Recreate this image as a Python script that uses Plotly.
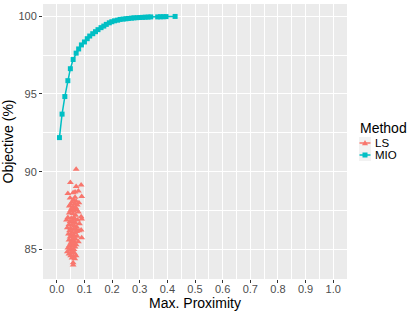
import plotly.graph_objects as go

mio_x = [0.0095, 0.019, 0.029, 0.040, 0.049, 0.059, 0.070, 0.079, 0.089, 0.100,
         0.110, 0.119, 0.130, 0.140, 0.149, 0.160, 0.170, 0.179, 0.190, 0.199,
         0.209, 0.220, 0.229, 0.240, 0.250, 0.259, 0.270, 0.279, 0.290, 0.300,
         0.310, 0.320, 0.330, 0.340, 0.365, 0.375, 0.385, 0.395, 0.428]
mio_y = [92.19, 93.70, 94.83, 95.85, 96.62, 97.21, 97.62, 97.89, 98.15, 98.34,
         98.55, 98.72, 98.87, 99.00, 99.13, 99.26, 99.36, 99.47, 99.57, 99.64,
         99.70, 99.74, 99.79, 99.81, 99.83, 99.85, 99.87, 99.89, 99.90, 99.91,
         99.92, 99.93, 99.94, 99.95, 99.95, 99.96, 99.96, 99.97, 99.98]

ls_x = [0.070, 0.049, 0.088, 0.070, 0.040, 0.078, 0.059, 0.066, 0.090, 0.048,
        0.060, 0.070, 0.055, 0.080, 0.065, 0.050, 0.074, 0.045, 0.060, 0.068,
        0.055, 0.072, 0.050, 0.062, 0.078, 0.045, 0.058, 0.068, 0.088, 0.040,
        0.052, 0.062, 0.075, 0.090, 0.035, 0.048, 0.058, 0.068, 0.082, 0.044,
        0.055, 0.064, 0.072, 0.038, 0.050, 0.060, 0.070, 0.088, 0.080, 0.046,
        0.056, 0.066, 0.042, 0.052, 0.062, 0.074, 0.090, 0.048, 0.058, 0.068,
        0.044, 0.054, 0.064, 0.078, 0.050, 0.060, 0.070, 0.046, 0.056, 0.066,
        0.040, 0.052, 0.062, 0.048, 0.058, 0.038, 0.054, 0.064, 0.044, 0.050,
        0.060, 0.070, 0.055, 0.065, 0.059, 0.059, 0.062, 0.054, 0.066, 0.058,
        0.072, 0.063, 0.057]
ls_y = [90.15, 89.30, 89.15, 89.05, 88.60, 88.75, 88.65, 88.70, 88.40, 88.30,
        88.20, 88.10, 88.05, 88.00, 87.95, 87.90, 87.85, 87.80, 87.75, 87.70,
        87.60, 87.55, 87.50, 87.45, 87.40, 87.35, 87.30, 87.20, 87.10, 87.05,
        87.00, 86.95, 86.90, 86.95, 86.90, 86.80, 86.75, 86.70, 86.65, 86.60,
        86.55, 86.50, 86.45, 86.40, 86.35, 86.30, 86.30, 86.25, 86.20, 86.20,
        86.10, 86.05, 86.00, 85.95, 85.90, 85.85, 85.75, 85.80, 85.70, 85.65,
        85.60, 85.55, 85.50, 85.50, 85.40, 85.35, 85.30, 85.25, 85.20, 85.15,
        85.10, 85.05, 85.00, 84.95, 84.90, 84.85, 84.80, 84.75, 84.70, 84.60,
        84.55, 84.60, 84.45, 84.40, 84.15, 84.00, 87.05, 87.65, 88.35, 86.85,
        86.15, 85.75, 85.45]

x_ticks = [0.0, 0.1, 0.2, 0.3, 0.4, 0.5, 0.6, 0.7, 0.8, 0.9, 1.0]
y_ticks = [85, 90, 95, 100]
methods = ["LS", "MIO"]

LS_COLOR = "#F8766D"
MIO_COLOR = "#00BFC4"
FONT = "Liberation Sans, Arial, sans-serif"

W, H = 415, 312
ML, MR, MT, MB = 43, 68, 4, 33
PW, PH = W - ML - MR, H - MT - MB


def px(xp):
    return (xp - ML) / PW


def py(yp):
    return (H - MB - yp) / PH


fig = go.Figure()
fig.add_trace(go.Scatter(x=ls_x, y=ls_y, mode="markers", showlegend=False, name="LS",
                         marker=dict(symbol="triangle-up", size=6, color=LS_COLOR)))
fig.add_trace(go.Scatter(x=mio_x, y=mio_y, mode="lines+markers", showlegend=False, name="MIO",
                         line=dict(color=MIO_COLOR, width=1.5),
                         marker=dict(symbol="square", size=5, color=MIO_COLOR)))

# manual legend (ggplot style)
shapes = []
annotations = []
annotations.append(dict(text="Method", xref="paper", yref="paper", x=px(358), y=py(128),
                        xanchor="left", yanchor="middle", showarrow=False,
                        font=dict(size=14, color="black")))
key_cy = [143, 155]
colors = [LS_COLOR, MIO_COLOR]
for name, cy, col in zip(methods, key_cy, colors):
    shapes.append(dict(type="rect", xref="paper", yref="paper",
                       x0=px(359), x1=px(371), y0=py(cy - 6), y1=py(cy + 6),
                       fillcolor="#F2F2F2", line=dict(width=0), layer="above"))
    shapes.append(dict(type="line", xref="paper", yref="paper",
                       x0=px(359.5), x1=px(370.5), y0=py(cy), y1=py(cy),
                       line=dict(color=col, width=1.5), layer="above"))
    if name == "LS":
        path = "M {} {} L {} {} L {} {} Z".format(px(362), py(cy + 2.2), px(368), py(cy + 2.2), px(365), py(cy - 3))
        shapes.append(dict(type="path", xref="paper", yref="paper", path=path,
                           fillcolor=col, line=dict(width=0), layer="above"))
    else:
        shapes.append(dict(type="rect", xref="paper", yref="paper",
                           x0=px(362.5), x1=px(367.5), y0=py(cy - 2.5), y1=py(cy + 2.5),
                           fillcolor=col, line=dict(width=0), layer="above"))
    annotations.append(dict(text=name, xref="paper", yref="paper", x=px(372.5), y=py(cy),
                            xanchor="left", yanchor="middle", showarrow=False,
                            font=dict(size=11.5, color="black")))

fig.update_layout(
    width=W, height=H,
    margin=dict(l=ML, r=MR, t=MT, b=MB, autoexpand=False),
    paper_bgcolor="white", plot_bgcolor="#EBEBEB",
    font=dict(family=FONT, color="black"),
    showlegend=False,
    shapes=shapes, annotations=annotations,
    xaxis=dict(range=[-0.05, 1.05], tickvals=x_ticks, automargin=False,
               ticktext=[f"{v:.1f}" for v in x_ticks],
               showgrid=True, gridcolor="white", gridwidth=1.1, zeroline=False,
               ticks="outside", ticklen=3, tickcolor="#333333",
               ticklabelstandoff=-3,
               tickfont=dict(size=11, color="#4D4D4D"),
               minor=dict(dtick=0.05, tick0=0.05, showgrid=True, gridcolor="white", gridwidth=0.5, ticks=""),
               title=dict(text="Max. Proximity", font=dict(size=14), standoff=0)),
    yaxis=dict(range=[83.1, 100.78], tickvals=y_ticks, automargin=False,
               showgrid=True, gridcolor="white", gridwidth=1.1, zeroline=False,
               ticks="outside", ticklen=3, tickcolor="#333333",
               tickfont=dict(size=11, color="#4D4D4D"),
               minor=dict(dtick=2.5, tick0=82.5, showgrid=True, gridcolor="white", gridwidth=0.5, ticks=""),
               title=dict(text="Objective (%)", font=dict(size=14), standoff=2)),
)

fig.write_html("out.html", config={"displayModeBar": False},
               post_script="document.body.style.margin='0';document.body.style.overflow='hidden';")
